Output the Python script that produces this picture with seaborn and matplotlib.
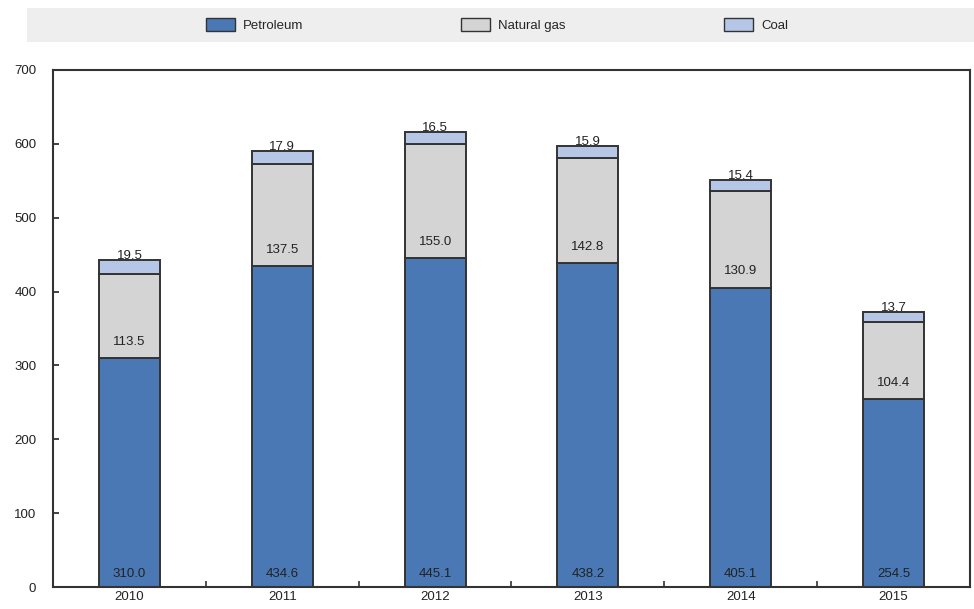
import matplotlib
matplotlib.use("Agg")
import matplotlib.pyplot as plt
import seaborn as sns
import pandas as pd
import numpy as np
from matplotlib.patches import Rectangle, Patch

years = ["2010", "2011", "2012", "2013", "2014", "2015"]
petroleum = [310.0, 434.6, 445.1, 438.2, 405.1, 254.5]
natural_gas = [113.5, 137.5, 155.0, 142.8, 130.9, 104.4]
coal = [19.5, 17.9, 16.5, 15.9, 15.4, 13.7]
series_names = ["Petroleum", "Natural gas", "Coal"]
y_ticks = [0, 100, 200, 300, 400, 500, 600, 700]

sns.set_style("white")
plt.rcParams["font.family"] = ["Liberation Sans Narrow", "Liberation Sans", "DejaVu Sans"]

colors = ["#4a78b4", "#d4d4d4", "#b6c6e6"]
edge = "#333333"

df = pd.DataFrame({"year": years, "Petroleum": petroleum,
                   "Natural gas": natural_gas, "Coal": coal})

fig = plt.figure(figsize=(9.74, 6.09), dpi=100)
ax = fig.add_axes([53/974, 1-587/609, (970-53)/974, (587-70)/609])

bottom = np.zeros(len(years))
for name, col in zip(series_names, colors):
    sns.barplot(data=df, x="year", y=name, ax=ax, color=col, width=0.4,
                bottom=bottom, edgecolor=edge, linewidth=1.4, saturation=1)
    bottom = bottom + df[name].values

ax.set_ylim(0, 700)
ax.set_xlim(-0.5, len(years) - 0.5)
ax.set_yticks(y_ticks)
ax.set_xlabel("")
ax.set_ylabel("")
ax.tick_params(axis="y", left=True, direction="in", length=4, width=1.2, labelsize=9.5,
               colors="#222222", pad=12)
ax.tick_params(axis="x", bottom=True, length=0, labelsize=9.5, colors="#222222", pad=3)
ax.set_xticks(np.arange(len(years) - 1) + 0.5, minor=True)
ax.tick_params(axis="x", which="minor", bottom=True, direction="in", length=4, width=1.2,
               color="#333333")
for s in ax.spines.values():
    s.set_color("#333333")
    s.set_linewidth(1.5)

txt = dict(ha="center", fontsize=9.5, color="#222222")
for i in range(len(years)):
    ax.text(i, 10, f"{petroleum[i]:.1f}", va="bottom", **txt)
    ax.text(i, petroleum[i] + 14, f"{natural_gas[i]:.1f}", va="bottom", **txt)
    ax.text(i, petroleum[i] + natural_gas[i] + coal[i] - 3, f"{coal[i]:.1f}", va="bottom", **txt)

fig.patches.append(Rectangle((27/974, 1-42/609), (974-27)/974, 34/609,
                             transform=fig.transFigure, facecolor="#eeeeee",
                             edgecolor="none", zorder=0))
handles = [Patch(facecolor=c, edgecolor=edge, linewidth=1.0) for c in colors]
fig.legend(handles, series_names, loc="center", bbox_to_anchor=(0.51, 1-25/609),
           ncol=3, frameon=False, fontsize=9.5, handlelength=2.2, handleheight=1.1,
           columnspacing=12, handletextpad=0.6)

fig.savefig("out.png", dpi=100)
